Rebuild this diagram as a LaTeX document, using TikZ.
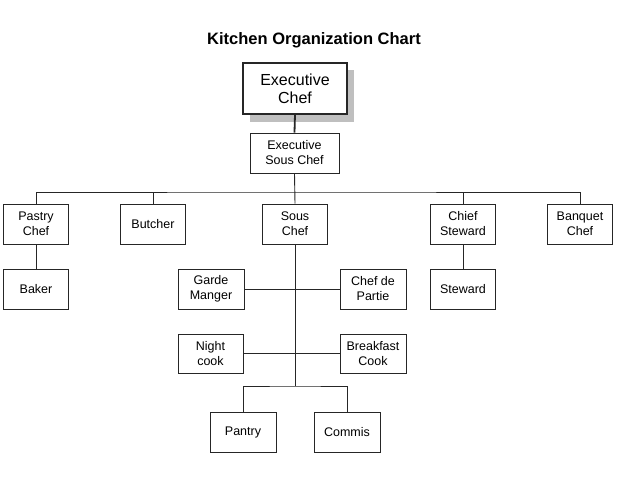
\documentclass[tikz,border=0pt]{standalone}
\usepackage{fontspec}
\setmainfont{Liberation Sans}
\begin{document}
\begin{tikzpicture}[x=1pt,y=-1pt,
  box/.style={draw=black!85,line width=0.9pt,fill=white,inner sep=0pt,align=center,
    minimum width=65pt,minimum height=40pt,font=\fontsize{12.5}{15}\selectfont},
  conn/.style={draw=black!85,line width=0.9pt}]
\useasboundingbox (0,0) rectangle (638,479);
\node[font=\fontsize{16.5}{20}\bfseries] (title) at (314,40) {Kitchen Organization Chart};
% shadow and top box
\fill[black!25] (250,70) rectangle (354,122);
\node[box,minimum width=104pt,minimum height=51pt,line width=1.1pt,font=\fontsize{16}{18}\selectfont] (ec) at (295,88.5) {Executive\\Chef};
\node[box,minimum width=89pt] (esc) at (294.5,153) {Executive\\Sous Chef};
\draw[conn,line width=1.8pt] (ec.south) -- (esc.north);
% row 1
\node[box] (pastry) at (36,224) {Pastry\\Chef};
\node[box] (butcher) at (153,224) {Butcher};
\node[box] (sous) at (295,224) {Sous\\Chef};
\node[box] (chiefst) at (463,224) {Chief\\Steward};
\node[box] (banquet) at (580,224) {Banquet\\Chef};
\coordinate (bar) at (295,192);
\draw[conn] (esc.south) -- (sous.north);
\draw[conn] (pastry.north) |- (bar) -| (banquet.north);
\draw[conn] (butcher.north) -- (butcher.north |- bar);
\draw[conn] (chiefst.north) -- (chiefst.north |- bar);
% row 2
\node[box] (baker) at (36,289) {Baker};
\node[box,minimum width=66pt] (garde) at (211,289) {Garde\\Manger};
\node[box,minimum width=66pt] (partie) at (373,289) {Chef de\\Partie};
\node[box] (steward) at (463,289) {Steward};
\draw[conn] (pastry) -- (baker);
\draw[conn] (chiefst) -- (steward);
\draw[conn] (garde) -- (partie);
% row 3
\node[box,minimum height=39pt] (night) at (210.5,353.5) {Night\\cook};
\node[box,minimum width=66pt,minimum height=39pt] (breakfast) at (373,353.5) {Breakfast\\Cook};
\draw[conn] (night) -- (breakfast);
% row 4
\node[box,minimum width=66pt] (pantry) at (243,432) {Pantry};
\node[box,minimum width=66pt] (commis) at (347,432) {Commis};
\coordinate (junc) at (295,386);
\draw[conn] (sous.south) -- (junc);
\draw[conn] (pantry.north) |- (junc) -| (commis.north);
\end{tikzpicture}
\end{document}
